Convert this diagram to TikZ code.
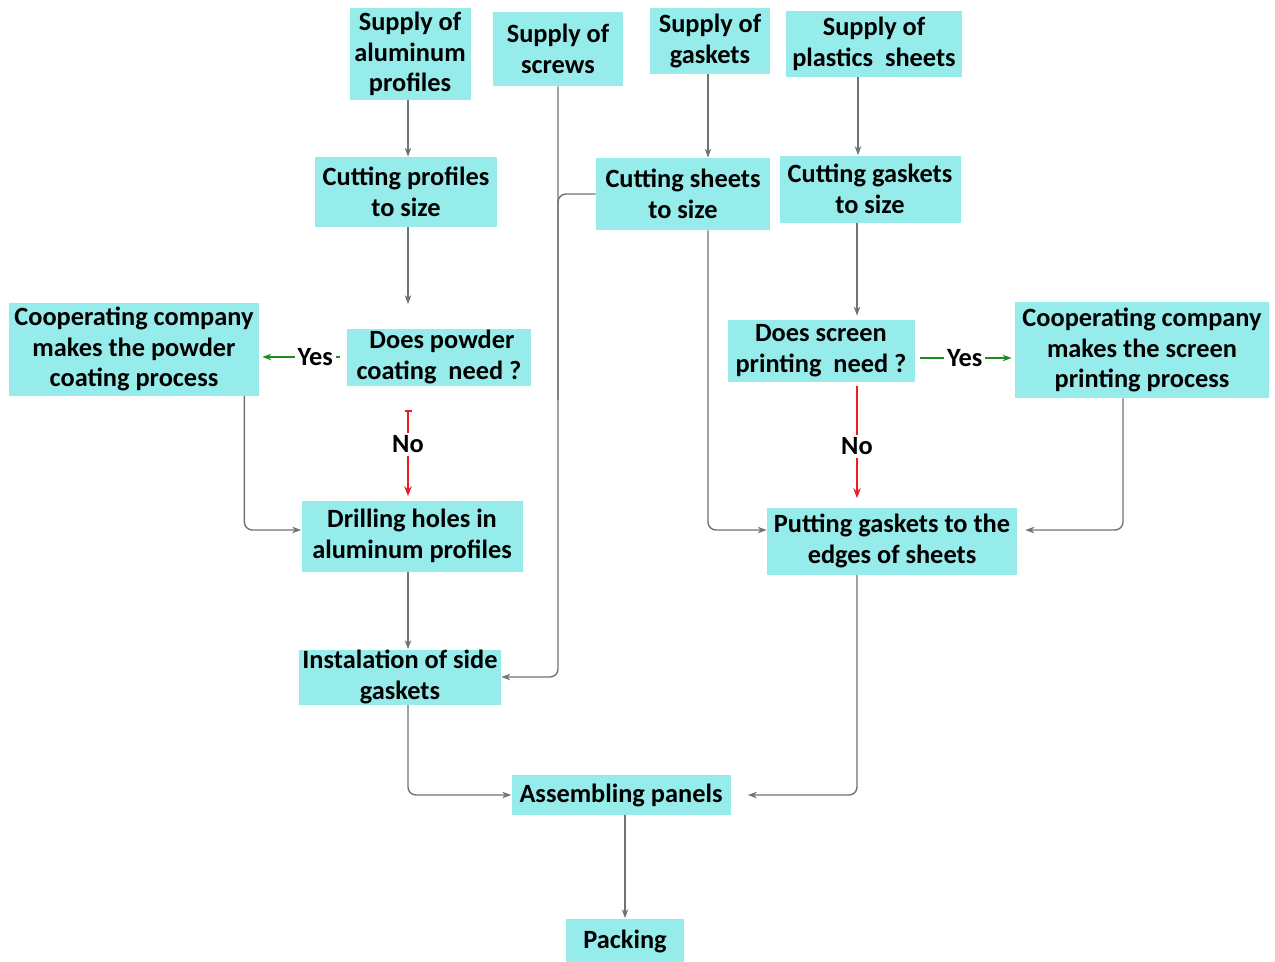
\documentclass[tikz,border=0pt]{standalone}
\usepackage{fontspec}
\setmainfont{Carlito}
\usepackage{tikz}
\usetikzlibrary{arrows.meta}

\definecolor{boxcyan}{RGB}{150,236,234}
\definecolor{linegray}{RGB}{110,114,122}
\definecolor{yesgreen}{RGB}{30,140,30}
\definecolor{nored}{RGB}{235,30,35}

\tikzset{
  box/.style={fill=boxcyan, inner sep=0pt, align=center,
              font=\fontsize{15}{17.5}\selectfont\bfseries},
  link/.style={linegray, line width=0.8pt, rounded corners=1.6mm,
               -{Stealth[length=1.8mm,width=1.3mm]}},
  joinline/.style={linegray, line width=0.8pt, rounded corners=1.6mm},
  yesline/.style={yesgreen, line width=1pt, -{Stealth[length=1.8mm,width=1.3mm]}},
  noline/.style={nored, line width=1.1pt, -{Stealth[length=2mm,width=1.5mm]}},
  lbl/.style={fill=white, text=black, inner sep=1.5pt, font=\fontsize{15}{17.5}\selectfont\bfseries}
}

\begin{document}
\begin{tikzpicture}[x=0.2mm, y=-0.2mm]
                    \useasboundingbox (0,0) rectangle (1275,961);
                    % supplies
                    \node[box, minimum width=24.2mm, minimum height=18.2mm] (alu) at (410,54) {Supply of\\aluminum\\profiles};
                    \node[box, minimum width=26mm, minimum height=14.8mm] (screws) at (558,49) {Supply of\\screws};
                    \node[box, minimum width=24mm, minimum height=13.2mm] (gaskets) at (710,41) {Supply of\\gaskets};
                    \node[box, minimum width=35.2mm, minimum height=13.2mm] (plastics) at (874,44) {Supply of\\plastics\ \ sheets};
                    % cutting
                    \node[box, minimum width=36.4mm, minimum height=14mm] (profcut) at (406,192) {Cutting profiles\\to size};
                    \node[box, minimum width=34.8mm, minimum height=14.4mm] (sheetcut) at (683,194) {Cutting sheets\\to size};
                    \node[box, minimum width=36.2mm, minimum height=13.4mm] (gasketcut) at (870,189) {Cutting gaskets\\to size};
                    % decisions
                    \node[box, minimum width=50mm, minimum height=18.6mm] (coatcoop) at (134,349) {Cooperating company\\makes the powder\\coating process};
                    \node[box, minimum width=36.8mm, minimum height=11.4mm] (coatq) at (439,357) {\ Does powder\\coating\ \ need ?};
                    \node[box, minimum width=37.4mm, minimum height=12.4mm] (printq) at (821,351) {Does screen\\printing\ \ need ?};
                    \node[box, minimum width=50.8mm, minimum height=19.2mm] (printcoop) at (1142,350) {Cooperating company\\makes the screen\\printing process};
                    % processing
                    \node[box, minimum width=44.2mm, minimum height=14.2mm] (drill) at (412,536) {Drilling holes in\\aluminum profiles};
                    \node[box, minimum width=50mm, minimum height=13.4mm] (putting) at (892,541) {Putting gaskets to the\\edges of sheets};
                    \node[box, minimum width=40.4mm, minimum height=11mm] (inst) at (400,677) {Instalation of side\\gaskets};
                    \node[box, minimum width=43.8mm, minimum height=8mm] (assemble) at (621,795) {Assembling panels};
                    \node[box, minimum width=23.6mm, minimum height=9mm] (pack) at (625,941) {Packing};

                    % connectors
                    \draw[link] ([xshift=-0.4mm]alu.south) -- ([xshift=-0.4mm]alu.south |- profcut.north);
                    \draw[link, shorten >=4.8mm] ([xshift=0.4mm]profcut.south) -- ([xshift=0.4mm]profcut.south |- coatq.north);
                    \draw[link] ([xshift=-0.4mm]gaskets.south) -- ([xshift=-0.4mm]gaskets.south |- sheetcut.north);
                    \draw[link] ([xshift=-3.2mm]plastics.south) -- ([xshift=-3.2mm]plastics.south |- gasketcut.north);
                    \draw[link, shorten >=0.8mm] ([xshift=-2.6mm]gasketcut.south) -- ([xshift=-2.6mm]gasketcut.south |- printq.north);
                    \draw[link] (screws.south) |- (inst.east);
                    \coordinate (screwjoin) at (558,400);
                    \draw[joinline] (sheetcut.west) -| (screwjoin);
                    \draw[link] ([xshift=-0.4mm]gaskets.south |- sheetcut.south) |- ([yshift=2.2mm]putting.west);
                    \draw[link] ([xshift=-3mm]coatcoop.south east) |- ([yshift=1.2mm]drill.west);
                    \draw[link, shorten >=1.6mm] ([xshift=-3.8mm]printcoop.south) |- ([yshift=2.2mm]putting.east);
                    \draw[link] ([xshift=-0.8mm]drill.south) -- ([xshift=-0.8mm]drill.south |- inst.north);
                    \draw[link] ([xshift=1.6mm]inst.south) |- (assemble.west);
                    \draw[link, shorten >=3.4mm] ([xshift=-7mm]putting.south) |- (assemble.east);
                    \draw[link] ([xshift=0.8mm]assemble.south) -- ([xshift=0.8mm]assemble.south |- pack.north);

                    % yes / no branches
                    \draw[yesline, shorten <=1.4mm, shorten >=0.6mm] (coatq.west) -- (coatq.west -| coatcoop.east)
                      node[lbl, pos=0.36] (coatyes) {Yes};
                    \draw[yesline, shorten <=1mm, shorten >=0.6mm] ([yshift=-1.4mm]printq.east) -- ([yshift=-1.4mm]printq.east -| printcoop.west)
                      node[lbl, pos=0.5] (printyes) {Yes};
                    \draw[noline, {Bar[width=1.4mm]}-{Stealth[length=2mm,width=1.5mm]}, shorten <=4.8mm, shorten >=0.8mm]
                      ([xshift=-6.2mm]coatq.south) -- ([xshift=-6.2mm]coatq.south |- drill.north)
                      node[lbl, midway, yshift=-0.3mm] (coatno) {No};
                    \draw[noline, shorten <=0.8mm, shorten >=1.8mm]
                      ([xshift=7.2mm]printq.south) -- ([xshift=7.2mm]printq.south |- putting.north)
                      node[lbl, midway, yshift=-0.3mm] (printno) {No};
                \end{tikzpicture}
\end{document}
